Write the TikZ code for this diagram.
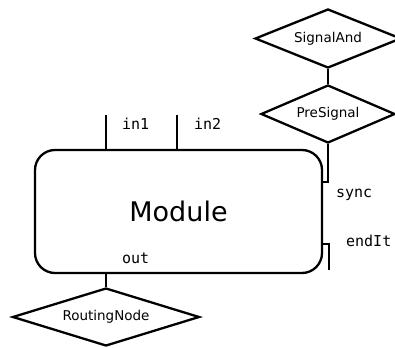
\documentclass[tikz,border=0pt]{standalone}
\usepackage{fontspec}
\setmainfont{DejaVu Sans}
\setmonofont{DejaVu Sans Mono}
\usetikzlibrary{shapes.geometric}

\begin{document}
\begin{tikzpicture}[x=1pt,y=-1pt,line width=2.3pt,
  block/.style={draw,rounded corners=20pt,minimum width=287pt,minimum height=123pt,
    inner sep=0pt,font=\fontsize{27}{27}\selectfont},
  gate/.style={draw,diamond,inner sep=0pt,font=\fontsize{13.5}{14}\selectfont},
  port/.style={anchor=base west,inner sep=0pt,font=\ttfamily\fontsize{15}{15}\selectfont}]
\useasboundingbox (0,0) rectangle (395,347);

% module
\node[block] (M) at (178.5,211.5) {Module};

% gates
\node[gate,aspect=3.2,minimum width=187pt,minimum height=58pt] (R) at (106,317) {RoutingNode};
\node[gate,aspect=2.3,minimum width=134pt,minimum height=58pt] (P) at (328,114) {PreSignal};
\node[gate,aspect=2.5,minimum width=146pt,minimum height=59pt] (S) at (328,38.5) {SignalAnd};

% ports
\coordinate (in1) at (106,115);
\coordinate (in2) at (177,115);
\coordinate (sync) at (M.east |- 0,182);
\coordinate (endIt) at (M.east |- 0,244);
\coordinate (endItEnd) at (329,270);

% edges
\draw (in1) -- (in1 |- M.north);
\draw (in2) -- (in2 |- M.north);
\draw (R.north) -- (R.north |- M.south);
\draw (S.south) -- (P.north);
\draw (P.south) |- (sync);
\draw (endIt) -| (endItEnd);

% labels
\node[port] (lin1) at (121,130) {in1};
\node[port] (lin2) at (193,130) {in2};
\node[port] (lout) at (121,263) {out};
\node[port] (lsync) at (335,197) {sync};
\node[port] (lend) at (345,246) {endIt};

\end{tikzpicture}
\end{document}
